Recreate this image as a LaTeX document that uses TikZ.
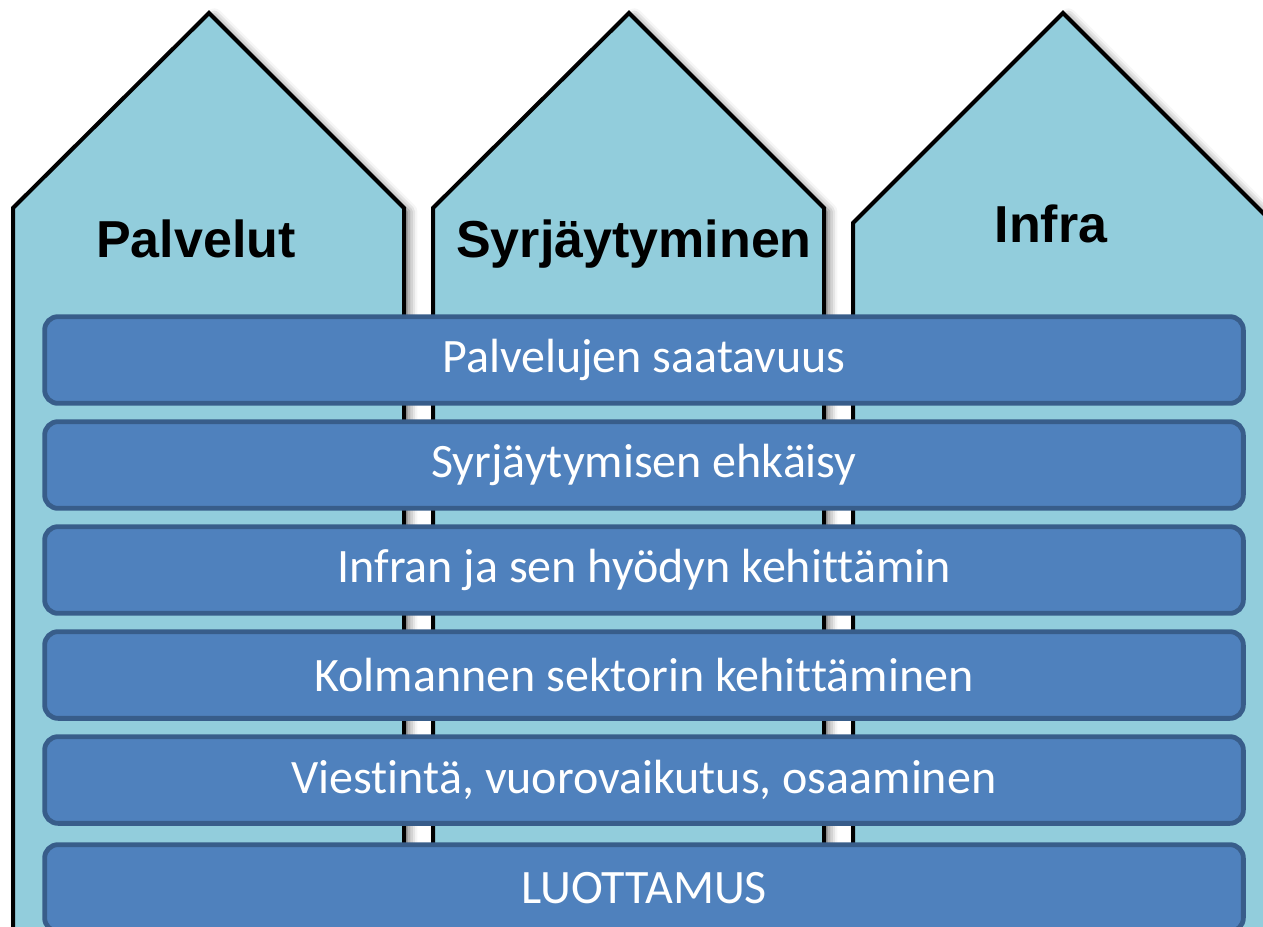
\documentclass[tikz,border=0pt]{standalone}
\usepackage{fontspec}
\setmainfont{Carlito}[Ligatures=CommonOff]
\newfontfamily\titlefont{Liberation Sans}
\usetikzlibrary{shadows.blur}
\definecolor{housefill}{HTML}{92CDDC}
\definecolor{barfill}{HTML}{4F81BD}
\definecolor{barline}{HTML}{385D8A}
\tikzset{
  house/.style={fill=housefill, draw=black, line width=3pt, line join=miter,
    blur shadow={shadow xshift=4pt, shadow yshift=-2.5pt, shadow blur radius=6pt, shadow opacity=55}},
  housetitle/.style={font=\titlefont\bfseries\fontsize{39}{44}\selectfont, text=black, anchor=base, inner sep=0pt},
  bar/.style={draw=barline, fill=barfill, line width=3.6pt, rounded corners=10pt,
    minimum width=899pt, minimum height=65pt, inner sep=0pt, text=white,
    font=\fontsize{36}{40}\selectfont},
}
\begin{document}
\begin{tikzpicture}[x=0.75pt,y=-0.75pt]
\useasboundingbox (0,0) rectangle (1263,926);
\clip (0,0) rectangle (1263,926);
% houses (pillars)
\path[house] (13,980) -- (13,208) -- (209,13) -- (404,208) -- (404,980) -- cycle;
\path[house] (433,980) -- (433,208) -- (629,13) -- (824,208) -- (824,980) -- cycle;
\path[house] (853,980) -- (853,223) -- (1063,13) -- (1273,223) -- (1273,980) -- cycle;
% titles
\node[housetitle] (t1) at (196,257) {Palvelut};
\node[housetitle] (t2) at (634,257) {Syrjäytyminen};
\node[housetitle] (t3) at (1051,242) {Infra};
% bars
\node[bar] (b1) at (644,360) {Palvelujen saatavuus};
\node[bar] (b2) at (644,465) {Syrjäytymisen ehkäisy};
\node[bar] (b3) at (644,570) {Infran ja sen hyödyn kehittämin};
\node[bar] (b4) at (644,675) {Kolmannen sektorin kehittäminen};
\node[bar] (b5) at (644,780) {Viestintä, vuorovaikutus, osaaminen};
\node[bar] (b6) at (644,888) {LUOTTAMUS};
\end{tikzpicture}
\end{document}
